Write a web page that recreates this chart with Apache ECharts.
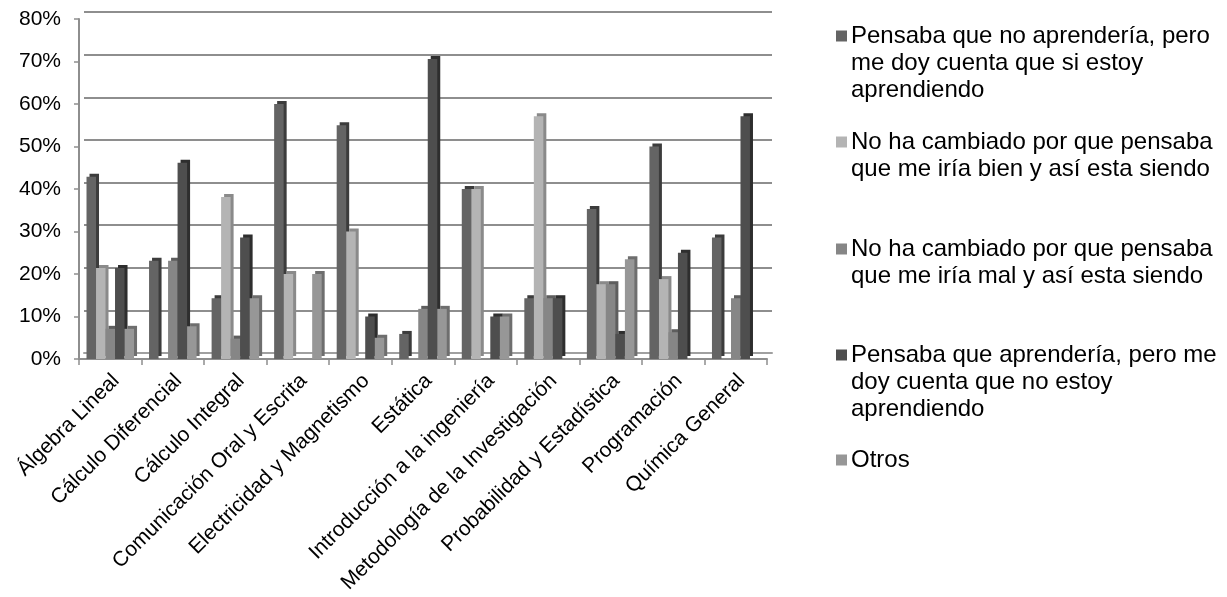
<!DOCTYPE html>
<html>
<head>
<meta charset="utf-8">
<title>chart</title>
<script src="https://cdn.jsdelivr.net/npm/echarts@6/dist/echarts.min.js"></script>
<style>
	html,body{margin:0;padding:0;background:#fff;}
	#mainChart{width:1227px;height:597px;}
</style>
</head>
<body>
<div id="mainChart"></div>
<script>
// materias
var categories = ['Álgebra Lineal','Cálculo Diferencial','Cálculo Integral','Comunicación Oral y Escrita','Electricidad y Magnetismo','Estática','Introducción a la ingeniería','Metodología de la Investigación','Probabilidad y Estadística','Programación','Química General'];
// nombres de las series (con saltos de linea como en la leyenda)
var seriesNames = [
	'Pensaba que no aprendería, pero\nme doy cuenta que si estoy\naprendiendo',
	'No ha cambiado por que pensaba\nque me iría bien y así esta siendo',
	'No ha cambiado por que pensaba\nque me iría mal y así esta siendo',
	'Pensaba que aprendería, pero me\ndoy cuenta que no estoy\naprendiendo',
	'Otros'
];
// valores en %
var noAprenderiaSi = [42.9, 23.1, 14.3, 60, 55, 5.9, 40, 14.3, 35.3, 50, 28.6];
var igualBien = [21.4, 0, 38.1, 20, 30, 0, 40, 57.1, 17.6, 18.8, 0];
var igualMal = [7.1, 23.1, 4.8, 0, 0, 11.8, 0, 14.3, 17.6, 6.3, 14.3];
var aprenderiaNo = [21.4, 46.2, 28.6, 0, 10, 70.6, 10, 14.3, 5.9, 25, 57.1];
var otros = [7.1, 7.7, 14.3, 20, 5, 11.8, 10, 0, 23.5, 0, 0];
var yTicks = [0, 10, 20, 30, 40, 50, 60, 70, 80];

var allData = [noAprenderiaSi, igualBien, igualMal, aprenderiaNo, otros];
var colors = ['#646464', '#b4b4b4', '#868686', '#4e4e4e', '#979797'];
var sideColors = ['#3c3c3c', '#8a8a8a', '#5e5e5e', '#2e2e2e', '#6e6e6e'];
var legendTops = [24, 130, 237, 343, 448];
var fontName = '"Liberation Sans", Arial, sans-serif';
var lineGray = '#8e8e8e';

var charts1 = echarts.init(document.getElementById('mainChart'));

var series = [];
var legends = [];
for (var i = 0; i < allData.length; i++) {
	series.push({
		name: seriesNames[i],
		type: 'bar',
		xAxisIndex: 0,
		yAxisIndex: 0,
		barGap: '0%',
		barCategoryGap: '24%',
		data: allData[i],
		itemStyle: {
			color: colors[i],
			shadowColor: sideColors[i],//cara lateral falsa
			shadowBlur: 0,
			shadowOffsetX: 3,
			shadowOffsetY: -3
		}
	});
	legends.push({
		data: [seriesNames[i]],
		left: 831,
		top: legendTops[i],
		orient: 'vertical',
		padding: 0,
		icon: 'none',
		itemWidth: 0,
		itemHeight: 0,
		selectedMode: false,
		formatter: function (name) {
			var lines = name.split('\n');
			var s = '{sq|}{t|' + lines[0] + '}';
			for (var k = 1; k < lines.length; k++) {
				s += '\n{pad|}{t|' + lines[k] + '}';
			}
			return s;
		},
		textStyle: {
			rich: {
				sq: {width: 11, height: 11, backgroundColor: colors[i], verticalAlign: 'middle'},
				pad: {width: 11, height: 11},
				t: {fontSize: 24, lineHeight: 27, color: '#000', fontFamily: fontName, padding: [0, 0, 0, 4]}
			}
		}
	});
}

var option = {
	animation: false,
	backgroundColor: '#fff',
	textStyle: {fontFamily: fontName},
	legend: legends,
	grid: [{
		left: 79, right: 460, top: 19, bottom: 238
	}, {
		//pared del fondo
		left: 84, right: 455, top: 12, bottom: 244
	}],
	xAxis: [{
		type: 'category',
		gridIndex: 0,
		data: categories,
		axisLine: {lineStyle: {color: lineGray, width: 2}},
		axisTick: {show: true, length: 6, lineStyle: {color: lineGray, width: 1.5}},
		axisLabel: {
			interval: 0,
			rotate: 45,
			margin: 13,
			verticalAlign: 'top',
			lineHeight: 16,
			color: '#000',
			fontSize: 21,
			fontFamily: fontName
		}
	}, {
		type: 'category',
		gridIndex: 1,
		data: categories,
		axisLine: {lineStyle: {color: '#a0a0a0', width: 2}},
		axisTick: {show: false},
		axisLabel: {show: false}
	}],
	yAxis: [{
		type: 'value',
		gridIndex: 0,
		min: yTicks[0],
		max: yTicks[yTicks.length - 1],
		interval: 10,
		axisLine: {show: true, lineStyle: {color: lineGray, width: 2}},
		axisTick: {show: true, length: 5, lineStyle: {color: lineGray, width: 1.5}},
		splitLine: {show: false},
		axisLabel: {
			formatter: '{value}%',
			margin: 18,
			color: '#000',
			fontSize: 21,
			fontFamily: fontName
		}
	}, {
		type: 'value',
		gridIndex: 1,
		min: yTicks[0],
		max: yTicks[yTicks.length - 1],
		interval: 10,
		axisLine: {show: false},
		axisTick: {show: false},
		axisLabel: {show: false},
		splitLine: {show: true, lineStyle: {color: lineGray, width: 2}}
	}],
	series: series
};

charts1.setOption(option);
</script>
</body>
</html>
